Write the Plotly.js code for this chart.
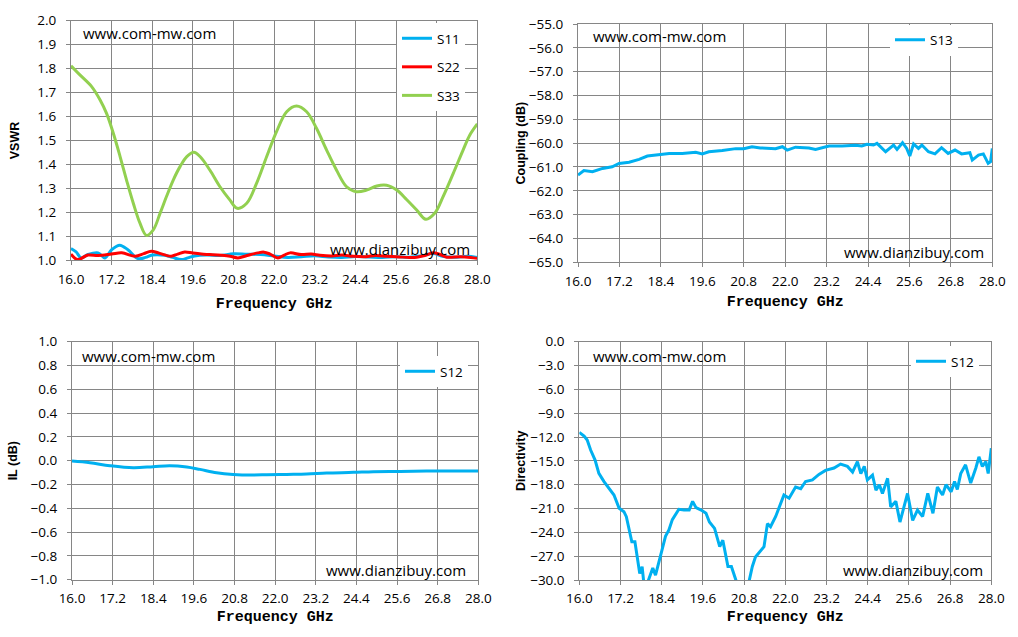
<!DOCTYPE html>
<html>
<head>
<meta charset="utf-8">
<script src="https://cdn.plot.ly/plotly-3.0.1.min.js"></script>
<style>
  html, body { margin: 0; padding: 0; background: #fff; }
  #chart { width: 1018px; height: 637px; }
</style>
</head>
<body>
<div id="chart"></div>
<script>
// VSWR (top left)
const freqS11 = [16.0, 16.15, 16.3, 16.5, 16.8, 17.0, 17.2, 17.44, 17.68, 17.98, 18.2, 18.4, 18.77, 19.0, 19.26, 19.45, 19.65, 20.0, 20.4, 20.8, 21.2, 21.6, 22.0, 22.4, 22.8, 23.2, 23.6, 24.0, 24.4, 24.8, 25.2, 25.6, 26.0, 26.4, 26.7, 27.0, 27.4, 27.7, 28.0]
const s11 = [1.049, 1.035, 1.010, 1.024, 1.031, 1.010, 1.044, 1.063, 1.044, 1.007, 1.012, 1.022, 1.021, 1.012, 1.003, 1.010, 1.018, 1.022, 1.020, 1.027, 1.025, 1.024, 1.018, 1.012, 1.015, 1.019, 1.014, 1.012, 1.016, 1.014, 1.012, 1.015, 1.013, 1.020, 1.028, 1.016, 1.013, 1.017, 1.012]

const freqS22 = [16.0, 16.2, 16.5, 16.8, 17.2, 17.5, 17.9, 18.15, 18.37, 18.6, 18.96, 19.15, 19.36, 19.6, 19.85, 20.1, 20.44, 20.7, 20.93, 21.2, 21.52, 21.7, 21.88, 22.11, 22.3, 22.47, 22.8, 23.1, 23.35, 23.7, 24.0, 24.33, 24.7, 25.0, 25.32, 25.7, 26.0, 26.21, 26.45, 26.7, 26.9, 27.1, 27.5, 27.8, 28.0]
const s22 = [1.026, 1.003, 1.022, 1.020, 1.026, 1.031, 1.017, 1.028, 1.038, 1.030, 1.017, 1.026, 1.035, 1.030, 1.026, 1.024, 1.021, 1.017, 1.010, 1.020, 1.031, 1.034, 1.026, 1.010, 1.022, 1.031, 1.024, 1.026, 1.021, 1.018, 1.022, 1.017, 1.015, 1.020, 1.017, 1.014, 1.012, 1.013, 1.020, 1.031, 1.024, 1.013, 1.015, 1.012, 1.008]

const freqS33 = [16.0, 16.27, 16.61, 16.86, 17.05, 17.25, 17.45, 17.64, 17.84, 18.04, 18.23, 18.43, 18.63, 18.82, 19.02, 19.22, 19.42, 19.63, 19.81, 20.1, 20.4, 20.69, 20.91, 21.19, 21.48, 21.78, 22.07, 22.37, 22.66, 22.96, 23.25, 23.55, 23.84, 24.14, 24.43, 24.73, 25.03, 25.32, 25.62, 25.91, 26.21, 26.48, 26.74, 26.99, 27.29, 27.58, 27.78, 28.0]
const s33 = [1.812, 1.773, 1.725, 1.669, 1.613, 1.530, 1.433, 1.335, 1.238, 1.154, 1.104, 1.127, 1.196, 1.266, 1.335, 1.391, 1.433, 1.451, 1.433, 1.377, 1.307, 1.252, 1.217, 1.238, 1.321, 1.433, 1.537, 1.620, 1.644, 1.620, 1.551, 1.460, 1.377, 1.307, 1.286, 1.293, 1.310, 1.313, 1.293, 1.254, 1.210, 1.171, 1.196, 1.266, 1.363, 1.460, 1.523, 1.569]

// Coupling (top right)
const freqS13 = [16.0, 16.17, 16.42, 16.71, 16.99, 17.19, 17.48, 17.77, 18.01, 18.25, 18.64, 19.02, 19.41, 19.6, 19.79, 20.18, 20.57, 20.8, 21.04, 21.28, 21.72, 21.92, 22.06, 22.3, 22.69, 22.88, 23.27, 23.65, 24.04, 24.22, 24.37, 24.56, 24.66, 24.91, 25.0, 25.14, 25.24, 25.4, 25.52, 25.61, 25.72, 25.86, 25.96, 26.15, 26.34, 26.53, 26.72, 26.92, 27.11, 27.35, 27.42, 27.6, 27.74, 27.88, 27.95, 28.0]
const s13 = [-61.34, -61.15, -61.20, -61.06, -60.99, -60.85, -60.80, -60.68, -60.54, -60.51, -60.43, -60.43, -60.38, -60.45, -60.36, -60.31, -60.23, -60.23, -60.15, -60.20, -60.23, -60.15, -60.29, -60.17, -60.20, -60.26, -60.12, -60.12, -60.09, -60.12, -60.05, -60.08, -60.01, -60.36, -60.26, -60.08, -60.26, -59.98, -60.22, -60.54, -60.03, -60.22, -60.08, -60.36, -60.45, -60.19, -60.43, -60.29, -60.45, -60.40, -60.71, -60.50, -60.45, -60.85, -60.78, -60.22]

// Insertion loss (bottom left)
const freqIL = [16.0, 16.53, 17.12, 17.81, 18.4, 18.89, 19.39, 19.78, 20.27, 20.76, 21.35, 21.75, 22.34, 22.93, 23.52, 24.31, 24.9, 25.69, 26.47, 27.26, 28.0]
const il = [-0.003, -0.017, -0.042, -0.059, -0.050, -0.042, -0.053, -0.073, -0.101, -0.115, -0.120, -0.118, -0.115, -0.112, -0.104, -0.098, -0.092, -0.090, -0.087, -0.087, -0.087]

// Directivity (bottom right)
const freqDir = [16.0, 16.14, 16.23, 16.33, 16.46, 16.57, 16.72, 16.86, 17.01, 17.16, 17.3, 17.37, 17.45, 17.53, 17.62, 17.69, 17.76, 17.83, 17.88, 17.95, 18.03, 18.14, 18.22, 18.32, 18.41, 18.51, 18.61, 18.71, 18.81, 18.9, 19.05, 19.2, 19.3, 19.4, 19.55, 19.69, 19.79, 19.94, 20.09, 20.18, 20.33, 20.43, 20.56, 20.7, 20.85, 20.96, 21.04, 21.13, 21.23, 21.38, 21.48, 21.57, 21.72, 21.86, 21.96, 22.11, 22.3, 22.45, 22.59, 22.79, 22.98, 23.17, 23.42, 23.61, 23.81, 23.96, 24.1, 24.2, 24.3, 24.39, 24.54, 24.64, 24.74, 24.83, 24.98, 25.07, 25.22, 25.34, 25.46, 25.56, 25.71, 25.85, 26.0, 26.15, 26.3, 26.43, 26.58, 26.68, 26.83, 26.93, 27.01, 27.11, 27.25, 27.4, 27.55, 27.64, 27.74, 27.84, 27.91, 28.0]
const directivity = [-11.41, -11.88, -12.38, -13.64, -14.90, -16.58, -17.62, -18.46, -19.30, -20.98, -21.40, -22.03, -23.71, -25.18, -25.18, -27.07, -29.17, -28.33, -30.4, -30.8, -29.8, -28.5, -29.4, -27.5, -26.2, -24.5, -23.7, -22.4, -21.8, -21.1, -21.2, -21.2, -20.1, -20.9, -21.2, -21.6, -22.7, -23.5, -25.8, -25.0, -28.3, -28.3, -30.0, -32.5, -32.0, -30.0, -28.3, -27.1, -26.6, -25.8, -22.9, -23.3, -22.0, -20.4, -19.3, -19.7, -18.3, -18.5, -17.6, -17.4, -16.7, -16.2, -15.9, -15.4, -15.7, -16.4, -15.1, -16.6, -15.7, -17.4, -16.8, -18.7, -18.0, -19.1, -17.2, -20.8, -20.1, -22.7, -20.6, -19.1, -22.5, -21.2, -22.0, -19.1, -21.6, -18.3, -19.3, -18.0, -18.9, -17.6, -18.6, -16.6, -15.5, -17.8, -15.9, -14.5, -15.7, -15.1, -16.6, -13.4]

const cyan = '#00b0f0'
const red = '#ff0000'
const green = '#92d050'
const gridGray = '#868686'
const tickFont = { family: 'Open Sans, Liberation Sans, sans-serif', size: 13.5, color: '#000' }

const xAxisBase = (domain, anchor, standoff) => ({
  domain: domain,
  anchor: anchor,
  range: [16, 28],
  tick0: 16,
  dtick: 1.2,
  tickformat: '.1f',
  showgrid: true,
  gridcolor: gridGray,
  gridwidth: 1,
  zeroline: false,
  showline: true,
  mirror: true,
  linecolor: gridGray,
  ticks: 'outside',
  ticklen: 4,
  tickcolor: gridGray,
  tickfont: tickFont,
  ticklabelstandoff: 2,
  fixedrange: true,
  title: {
    text: 'Frequency GHz',
    font: { family: 'Liberation Mono, monospace', size: 15, color: '#000', weight: 'bold' },
    standoff: standoff,
  },
})

const yAxisBase = (domain, anchor, range, dtick, title, standoff) => ({
  domain: domain,
  anchor: anchor,
  range: range,
  tick0: range[0],
  dtick: dtick,
  tickformat: '.1f',
  showgrid: true,
  gridcolor: gridGray,
  gridwidth: 1,
  zeroline: false,
  showline: true,
  mirror: true,
  linecolor: gridGray,
  ticks: 'outside',
  ticklen: 4,
  tickcolor: gridGray,
  tickfont: tickFont,
  ticklabelstandoff: 7,
  fixedrange: true,
  title: {
    text: title,
    font: { family: 'Liberation Sans, Arial, sans-serif', size: 12.5, color: '#000', weight: 'bold' },
    standoff: standoff,
  },
})

const line = (color, shape) => ({ color: color, width: 3, shape: shape || 'linear' })

const data = [
  { x: freqS11, y: s11, name: 'S11', mode: 'lines', line: line(cyan, 'spline'), xaxis: 'x', yaxis: 'y', legend: 'legend', legendgroup: 'a' },
  { x: freqS22, y: s22, name: 'S22', mode: 'lines', line: line(red, 'spline'), xaxis: 'x', yaxis: 'y', legend: 'legend', legendgroup: 'b' },
  { x: freqS33, y: s33, name: 'S33', mode: 'lines', line: line(green, 'spline'), xaxis: 'x', yaxis: 'y', legend: 'legend', legendgroup: 'c' },
  { x: freqS13, y: s13, name: 'S13', mode: 'lines', line: line(cyan), xaxis: 'x2', yaxis: 'y2', legend: 'legend2' },
  { x: freqIL, y: il, name: 'S12', mode: 'lines', line: line(cyan, 'spline'), xaxis: 'x3', yaxis: 'y3', legend: 'legend3' },
  { x: freqDir, y: directivity, name: 'S12', mode: 'lines', line: line(cyan), xaxis: 'x4', yaxis: 'y4', legend: 'legend4' },
]

const legendFont = { family: 'Open Sans, Liberation Sans, sans-serif', size: 13.5, color: '#000' }
const legendBase = (x, y) => ({
  x: x, y: y, xref: 'paper', yref: 'paper',
  xanchor: 'left', yanchor: 'top',
  bgcolor: '#fff',
  borderwidth: 0,
  font: legendFont,
  tracegroupgap: 8,
  itemclick: false,
  itemdoubleclick: false,
})

const W = 1018, H = 637
const px = (v) => v / W
const py = (v) => 1 - v / H

const watermark = (x, y, text) => ({
  x: px(x), y: py(y), xref: 'paper', yref: 'paper',
  xanchor: 'left', yanchor: 'middle',
  text: text, showarrow: false,
  font: { family: 'Open Sans, Liberation Sans, sans-serif', size: 15, color: '#000' },
})

const layout = {
  width: W,
  height: H,
  margin: { l: 0, r: 0, t: 0, b: 0 },
  paper_bgcolor: '#fff',
  plot_bgcolor: '#fff',
  showlegend: true,
  xaxis: xAxisBase([px(71), px(477.3)], 'y', 10),
  yaxis: yAxisBase([py(260.3), py(20.7)], 'x', [1.0, 2.0], 0.1, 'VSWR', 14),
  xaxis2: xAxisBase([px(578), px(992.3)], 'y2', 6),
  yaxis2: yAxisBase([py(262.3), py(24)], 'x2', [-65, -55], 1, 'Coupling (dB)', 0),
  xaxis3: xAxisBase([px(72), px(478.3)], 'y3', 4),
  yaxis3: yAxisBase([py(579.7), py(341.7)], 'x3', [-1, 1], 0.2, 'IL (dB)', 10),
  xaxis4: xAxisBase([px(579.3), px(991.3)], 'y4', 4),
  yaxis4: yAxisBase([py(580), py(341.7)], 'x4', [-30, 0], 3, 'Directivity', 1),
  legend: legendBase(px(397), py(23)),
  legend2: legendBase(px(890), py(24.5)),
  legend3: legendBase(px(400), py(356)),
  legend4: legendBase(px(911), py(346)),
  annotations: [
    watermark(81, 33, 'www.com-mw.com'),
    watermark(328, 249, 'www.dianzibuy.com'),
    watermark(591, 36, 'www.com-mw.com'),
    watermark(842, 252, 'www.dianzibuy.com'),
    watermark(80, 356, 'www.com-mw.com'),
    watermark(324, 570, 'www.dianzibuy.com'),
    watermark(591, 356, 'www.com-mw.com'),
    watermark(841, 570, 'www.dianzibuy.com'),
  ],
}

const config = { displayModeBar: false, staticPlot: true }

Plotly.newPlot('chart', data, layout, config)
</script>
</body>
</html>
